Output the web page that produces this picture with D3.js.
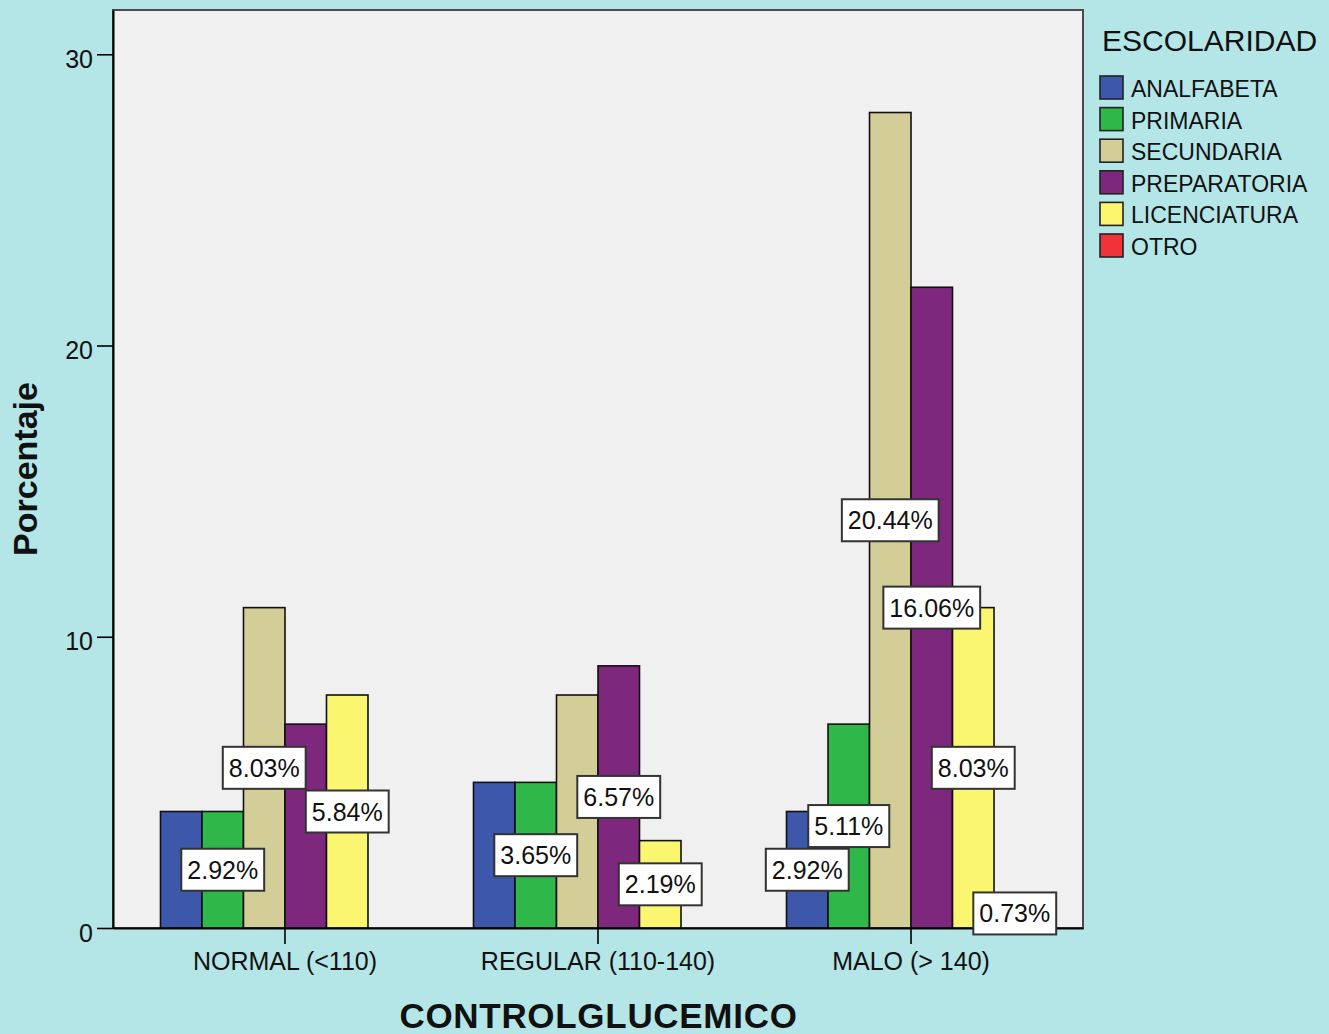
<!DOCTYPE html>
<html>
<head>
<meta charset="utf-8">
<script src="https://cdn.jsdelivr.net/npm/d3@7"></script>
<style>
  html, body { margin: 0; padding: 0; background: #b4e6e7; }
  svg { display: block; }
  text { font-family: "Liberation Sans", Arial, sans-serif; fill: #111; }
</style>
</head>
<body>
<svg id="chart" width="1329" height="1034"></svg>
<script>
// ---- data ----
const categories = ["NORMAL (<110)", "REGULAR (110-140)", "MALO (> 140)"];
const seriesNames = ["ANALFABETA", "PRIMARIA", "SECUNDARIA", "PREPARATORIA", "LICENCIATURA", "OTRO"];
const analfabeta   = [4, 5, 4];
const primaria     = [4, 5, 7];
const secundaria   = [11, 8, 28];
const preparatoria = [7, 9, 22];
const licenciatura = [8, 3, 11];
const otro         = [0, 0, 1];
const analfabetaLabels   = [null, null, "2.92%"];
const primariaLabels     = ["2.92%", "3.65%", "5.11%"];
const secundariaLabels   = ["8.03%", null, "20.44%"];
const preparatoriaLabels = [null, "6.57%", "16.06%"];
const licenciaturaLabels = ["5.84%", "2.19%", "8.03%"];
const otroLabels         = [null, null, "0.73%"];
const yTicks = [0, 10, 20, 30];
const legendTitle = "ESCOLARIDAD";
const xTitle = "CONTROLGLUCEMICO";
const yTitle = "Porcentaje";

// ---- styles ----
const colors = ["#3d57ab", "#2fb74a", "#d3cd97", "#7d287d", "#faf66f", "#ee3438"];
const seriesValues = [analfabeta, primaria, secundaria, preparatoria, licenciatura, otro];
const seriesLabels = [analfabetaLabels, primariaLabels, secundariaLabels, preparatoriaLabels, licenciaturaLabels, otroLabels];

const svg = d3.select("#chart");
const plot = { left: 113, right: 1083, top: 10, bottom: 928 };

const x0 = d3.scaleBand().domain(categories).range([plot.left, plot.right])
  .paddingInner(0.2045).paddingOuter(0.1517);
const x1 = d3.scaleBand().domain(seriesNames).range([0, x0.bandwidth()]).padding(0);
const y = d3.scaleLinear().domain([0, 31.52]).range([plot.bottom, plot.top]);

// plot background
svg.append("rect")
  .attr("x", plot.left).attr("y", plot.top)
  .attr("width", plot.right - plot.left).attr("height", plot.bottom - plot.top)
  .attr("fill", "#f0f0f0").attr("stroke", "#4a4a4a").attr("stroke-width", 2);

// bars
const rows = [];
seriesNames.forEach((s, si) => {
  categories.forEach((c, ci) => {
    rows.push({ s, si, c, v: seriesValues[si][ci], label: seriesLabels[si][ci] });
  });
});

svg.append("g").selectAll("rect")
  .data(rows.filter(d => d.v > 0))
  .join("rect")
  .attr("x", d => x0(d.c) + x1(d.s))
  .attr("y", d => y(d.v))
  .attr("width", x1.bandwidth())
  .attr("height", d => y(0) - y(d.v))
  .attr("fill", d => colors[d.si])
  .attr("stroke", "#111")
  .attr("stroke-width", 1.6);

// axes
const yAxis = d3.axisLeft(y).tickValues(yTicks).tickSize(16).tickSizeOuter(0).tickPadding(4);
const gy = svg.append("g").attr("transform", `translate(${plot.left},0)`).call(yAxis);
gy.select(".domain").attr("stroke", "#000").attr("stroke-width", 2);
gy.selectAll(".tick line").attr("stroke", "#000").attr("stroke-width", 1.6);
gy.selectAll(".tick text").attr("font-size", 25).attr("dy", "0.52em")
  .attr("font-family", "Liberation Sans, Arial, sans-serif").attr("fill", "#111");

const xAxis = d3.axisBottom(x0).tickSize(16).tickSizeOuter(0);
const gx = svg.append("g").attr("transform", `translate(0,${plot.bottom})`).call(xAxis);
gx.select(".domain").attr("stroke", "#000").attr("stroke-width", 2);
gx.selectAll(".tick line").attr("stroke", "#000").attr("stroke-width", 1.6);
gx.selectAll(".tick text").attr("font-size", 25).attr("y", 42).attr("dy", "0")
  .attr("font-family", "Liberation Sans, Arial, sans-serif").attr("fill", "#111");

// value labels
const lab = svg.append("g").selectAll("g")
  .data(rows.filter(d => d.label))
  .join("g")
  .attr("transform", d => `translate(${x0(d.c) + x1(d.s) + x1.bandwidth() / 2},${y(d.v / 2)})`);
lab.append("text")
  .attr("text-anchor", "middle")
  .attr("dy", "0.36em")
  .attr("font-size", 25)
  .text(d => d.label);
lab.each(function() {
  const g = d3.select(this);
  const w = g.select("text").node().getComputedTextLength() + 12;
  g.insert("rect", "text")
    .attr("x", -w / 2).attr("y", -21)
    .attr("width", w).attr("height", 42)
    .attr("fill", "#fff").attr("stroke", "#333").attr("stroke-width", 2);
});

// axis titles
svg.append("text")
  .attr("x", 598.5).attr("y", 1028)
  .attr("text-anchor", "middle").attr("font-size", 35).attr("font-weight", "bold")
  .attr("letter-spacing", 0.7)
  .text(xTitle);
svg.append("text")
  .attr("transform", "translate(37,469) rotate(-90)")
  .attr("text-anchor", "middle").attr("font-size", 34).attr("font-weight", "bold")
  .text(yTitle);

// legend
const legend = svg.append("g");
legend.append("text").attr("x", 1102).attr("y", 51).attr("font-size", 30).text(legendTitle);
const li = legend.selectAll("g.item").data(seriesNames).join("g").attr("class", "item")
  .attr("transform", (d, i) => `translate(1100,${76 + i * 31.6})`);
li.append("rect").attr("width", 23).attr("height", 23)
  .attr("fill", (d, i) => colors[i]).attr("stroke", "#222").attr("stroke-width", 1.6);
li.append("text").attr("x", 31).attr("y", 21).attr("font-size", 23).text(d => d);
</script>
</body>
</html>
